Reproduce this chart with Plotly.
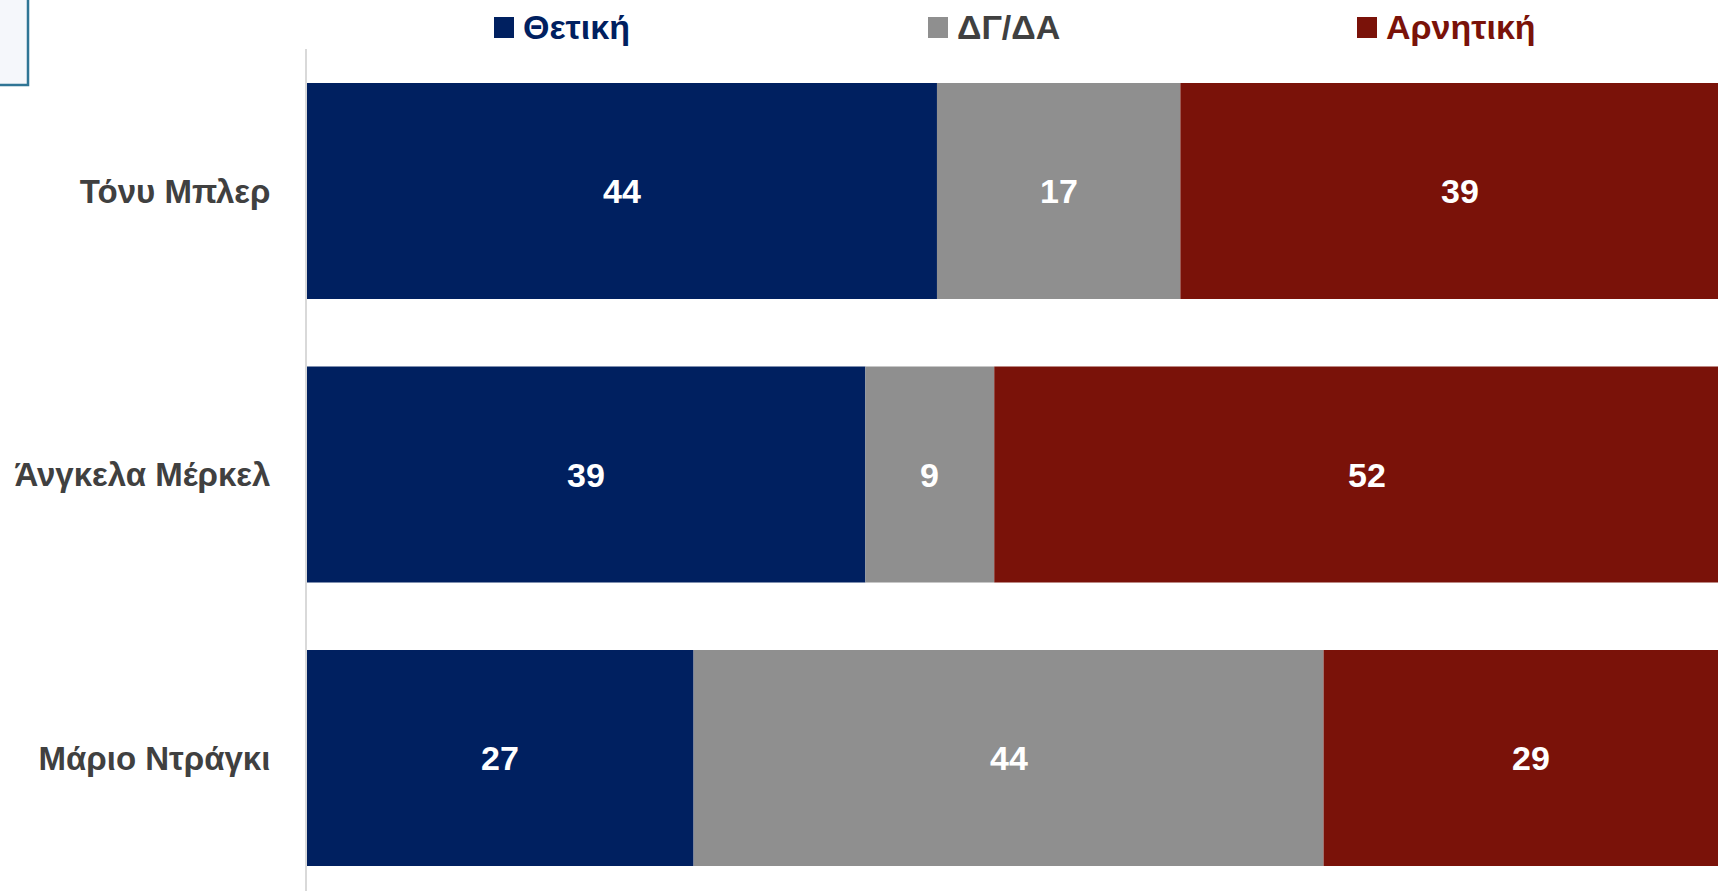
import plotly.graph_objects as go

people = ["Τόνυ Μπλερ", "Άνγκελα Μέρκελ", "Μάριο Ντράγκι"]
positive = [44, 39, 27]
dk_na = [17, 9, 44]
negative = [39, 52, 29]

series = [
    ("Θετική", positive, "#002060", "#002060"),
    ("ΔΓ/ΔΑ", dk_na, "#8F8F8F", "#404040"),
    ("Αρνητική", negative, "#7A1209", "#7A1209"),
]

W, H = 1718, 891
L, T = 307, 49
PW, PH = W - L, H - T

font = "Liberation Sans, Arial"

fig = go.Figure()
base = [0, 0, 0]
annotations = []
for name, vals, col, _ in series:
    fig.add_trace(go.Bar(
        y=people, x=vals, base=base, name=name, orientation="h",
        marker=dict(color=col, line=dict(width=0)),
        showlegend=False, hoverinfo="x+name",
    ))
    for p, v, b in zip(people, vals, base):
        annotations.append(dict(
            x=b + v / 2, y=p, xref="x", yref="y", text=f"<b>{v}</b>",
            showarrow=False, font=dict(family=font, size=34, color="white"),
        ))
    base = [b + v for b, v in zip(base, vals)]

# legend drawn by hand at the top
legend_x = [494, 928, 1357]
shapes = []
for (name, _, col, tcol), lx in zip(series, legend_x):
    shapes.append(dict(
        type="rect", xref="paper", yref="paper",
        x0=(lx - L) / PW, x1=(lx + 20 - L) / PW,
        y0=(H - 38) / PH, y1=(H - 17) / PH,
        fillcolor=col, line=dict(width=0),
    ))
    annotations.append(dict(
        x=(lx + 27 - L) / PW, y=(H - 27) / PH, xref="paper", yref="paper",
        xanchor="left", yanchor="middle", text=f"<b>{name}</b>",
        showarrow=False, font=dict(family=font, size=34, color=tcol),
    ))

# small framed box in the top-left corner
shapes.append(dict(
    type="rect", xref="paper", yref="paper",
    x0=(-20 - L) / PW, x1=(28 - L) / PW,
    y0=(H - 85) / PH, y1=(H + 20) / PH,
    fillcolor="#F5F7FB", line=dict(color="#2F7595", width=2.5),
))

fig.update_layout(
    width=W, height=H,
    barmode="overlay", bargap=0.238,
    margin=dict(l=L, r=0, t=T, b=0),
    plot_bgcolor="white", paper_bgcolor="white",
    shapes=shapes, annotations=annotations,
    font=dict(family=font, color="#404040"),
)
fig.update_xaxes(range=[0, 98.55], visible=False, fixedrange=True)
fig.update_yaxes(
    range=[2.469, -0.501], showline=True, linecolor="#D9D9D9", linewidth=2,
    showgrid=False, zeroline=False, ticks="", ticklabelstandoff=28,
    tickfont=dict(family=font, size=33, color="#404040"),
    tickvals=people, ticktext=[f"<b>{p}</b>" for p in people],
)

fig.write_html(
    "out.html",
    config={"displayModeBar": False},
    post_script="document.body.style.margin='0';document.body.style.overflow='hidden';",
)
